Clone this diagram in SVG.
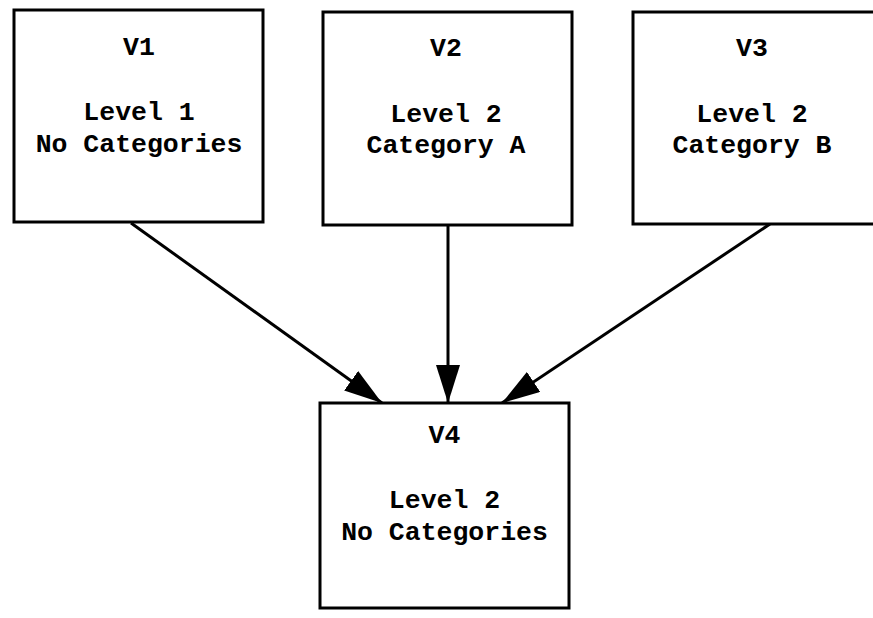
<svg xmlns="http://www.w3.org/2000/svg" width="873" height="618" viewBox="0 0 873 618">
<style>
.box{fill:#fff;stroke:#000;stroke-width:3}
.t{font-family:"Liberation Mono","Courier New",monospace;font-size:26.5px;font-weight:bold;fill:#000;text-anchor:middle}
.c{stroke:#000;stroke-width:3;fill:none;marker-end:url(#ah)}
</style>
<defs>
<marker id="ah" viewBox="0 0 38 24" refX="38" refY="12" markerWidth="38" markerHeight="24" orient="auto" markerUnits="userSpaceOnUse">
<path d="M0,0 L38,12 L0,24 z" fill="#000"/>
</marker>
</defs>
<rect width="873" height="618" fill="#fff"/>
<g id="connectors">
<line class="c" x1="131" y1="223" x2="382" y2="403"/>
<line class="c" x1="448" y1="225" x2="448" y2="403"/>
<line class="c" x1="770" y1="224" x2="502" y2="403"/>
</g>
<g id="V1">
<rect class="box" x="14" y="10" width="249" height="212"/>
<text class="t" x="139" y="55">V1</text>
<text class="t" x="139" y="120">Level 1</text>
<text class="t" x="139" y="152">No Categories</text>
</g>
<g id="V2">
<rect class="box" x="323" y="12" width="249" height="213"/>
<text class="t" x="446" y="56">V2</text>
<text class="t" x="446" y="122">Level 2</text>
<text class="t" x="446" y="153">Category A</text>
</g>
<g id="V3">
<rect class="box" x="633" y="12" width="245" height="212"/>
<text class="t" x="752" y="56">V3</text>
<text class="t" x="752" y="122">Level 2</text>
<text class="t" x="752" y="153">Category B</text>
</g>
<g id="V4">
<rect class="box" x="320" y="403" width="249" height="205"/>
<text class="t" x="444.5" y="443">V4</text>
<text class="t" x="444.5" y="508">Level 2</text>
<text class="t" x="444.5" y="540">No Categories</text>
</g>
</svg>
